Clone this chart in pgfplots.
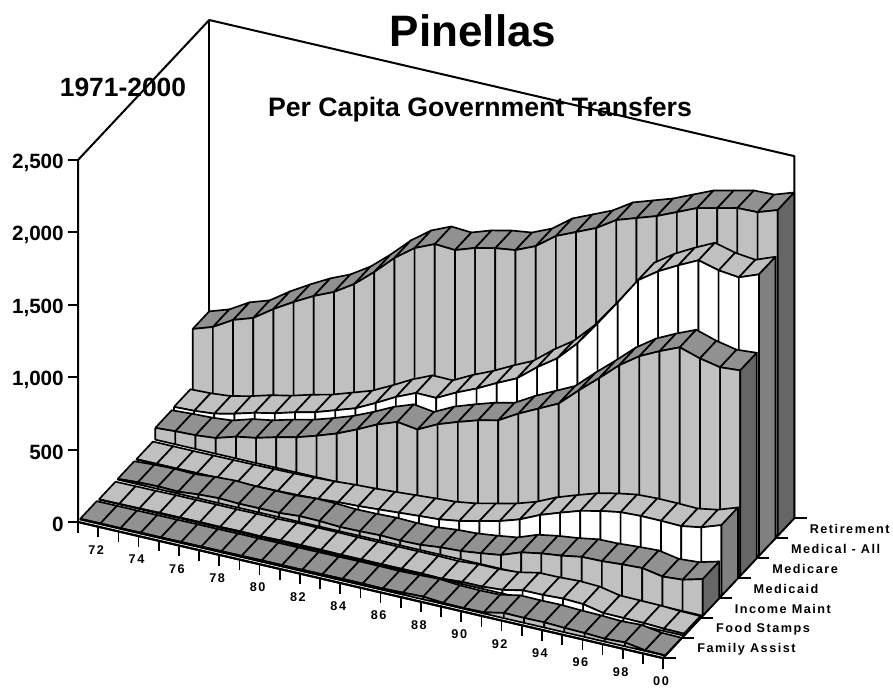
\documentclass[border=0pt]{standalone}
\usepackage{fontspec}
\setmainfont{Liberation Sans}
\newfontfamily\spaced{Liberation Sans}[LetterSpace=12]
\usepackage{pgfplots}
\usepackage{pgfplotstable}
\pgfplotsset{compat=1.18}

\definecolor{lite}{HTML}{C0C0C0}
\definecolor{dark}{HTML}{919191}
\definecolor{sideA}{HTML}{666666}
\definecolor{sideB}{HTML}{808080}

% per capita transfers, row 0 = 1971
\pgfplotstableread{
FA FS IM MA MC MD RT
6 2 5 3 81 88 488
6 3 14 3 90 93 534
6 4 18 3 95 106 615
7 6 14 4 108 138 661
7 6 27 5 150 177 755
8 7 34 6 174 206 836
8 6 28 8 211 245 910
9 8 29 10 243 278 970
9 6 29 14 286 324 1057
10 10 40 20 334 370 1173
10 10 38 30 394 439 1302
10 10 30 36 461 513 1403
11 8 32 45 511 573 1463
12 8 37 55 491 571 1454
12 8 33 65 560 641 1501
10 8 36 74 608 701 1532
14 8 51 95 652 771 1551
19 5 58 127 684 836 1611
8 15 75 159 763 945 1713
5 15 95 203 830 1039 1773
8 25 146 266 897 1175 1833
36 54 171 314 1021 1346 1921
34 55 188 359 1137 1523 1967
36 62 212 391 1259 1708 2013
30 56 215 415 1354 1802 2073
27 27 225 421 1421 1876 2133
20 25 232 420 1480 1943 2165
27 23 206 416 1436 1906 2198
5 16 216 440 1407 1890 2202
2 14 253 488 1418 1943 2249
}\transfers

\tikzset{face/.style={draw=black,line width=1.25pt,line join=round,solid,mark=none},
  wall/.style={draw=black,line width=1.5pt,line join=round,solid,mark=none}}

% column, depth slot, front colour, top colour, side colour
\newcommand\ribbon[5]{%
  \pgfmathsetmacro\dA{#2+0.12}%
  \pgfmathsetmacro\dB{#2+1}%
  \pgfplotsforeachungrouped \k in {0,...,28}{%
    \pgfmathtruncatemacro\kk{\k+1}%
    \pgfplotstablegetelem{\k}{#1}\of\transfers \let\va\pgfplotsretval
    \pgfplotstablegetelem{\kk}{#1}\of\transfers \let\vb\pgfplotsretval
    \edef\temp{%
      \noexpand\addplot3[face,fill=#4] coordinates {(\k,\dA,\va)(\kk,\dA,\vb)(\kk,\dB,\vb)(\k,\dB,\va)(\k,\dA,\va)};
      \noexpand\addplot3[face,fill=#3] coordinates {(\k,\dA,\va)(\kk,\dA,\vb)(\kk,\dA,0)(\k,\dA,0)(\k,\dA,\va)};
    }\temp
  }%
  \pgfplotstablegetelem{29}{#1}\of\transfers \let\va\pgfplotsretval
  \edef\temp{\noexpand\addplot3[face,fill=#5] coordinates {(29,\dA,\va)(29,\dB,\va)(29,\dB,0)(29,\dA,0)(29,\dA,\va)};}\temp
}
\newcommand\yrlabel[2]{\node[font=\spaced\bfseries\fontsize{9.5}{10}\selectfont,xshift=-1.5pt,yshift=-17.4pt,inner sep=0pt] at (axis cs:#1,0,0) {#2};}
\newcommand\serlabel[2]{\node[anchor=west,inner sep=0pt,font=\spaced\bfseries\fontsize{9.5}{10}\selectfont,xshift=25.5pt,yshift=6.75pt] at (axis cs:29,#1,0) {#2};}
\newcommand\zlabel[2]{\node[anchor=east,inner sep=0pt,font=\bfseries\fontsize{15.5}{17}\selectfont,xshift=-10.5pt,yshift=-2pt] at (axis cs:0,0,#1) {#2};}

\begin{document}
\begin{tikzpicture}[x=0.75pt,y=-0.75pt]
\path[use as bounding box] (0,0) rectangle (893,687);
\begin{axis}[at={(58.5pt,-391.5pt)},anchor=origin,
    x={(15.13pt,-3.52pt)},y={(14.06pt,15pt)},z={(0pt,0.1086pt)},
    xmin=0,xmax=29,ymin=0,ymax=7,zmin=0,zmax=2500,
    hide axis,clip=false,no markers]
  % walls and axes
  \addplot3[wall] coordinates {(0,0,0)(0,0,2500)(0,7,2500)(29,7,2500)(29,7,0)(29,0,0)(0,0,0)};
  \addplot3[wall] coordinates {(0,7,2500)(0,7,0)};
  \pgfplotsinvokeforeach{0,500,1000,1500,2000,2500}{\draw[line width=1.5pt] (axis cs:0,0,#1) -- ++(-7.5pt,0pt);}
  \pgfplotsinvokeforeach{0,...,29}{\draw[line width=1.25pt] (axis cs:#1,0,0) -- ++(0pt,-8pt);}
  \pgfplotsinvokeforeach{0,...,7}{\draw[line width=1.25pt] (axis cs:29,#1,0) -- ++(9.5pt,0pt);}
  % ribbons, back to front
  \ribbon{RT}{6}{lite}{dark}{sideA}
  \ribbon{MD}{5}{white}{lite}{sideB}
  \ribbon{MC}{4}{lite}{dark}{sideA}
  \ribbon{MA}{3}{white}{lite}{sideB}
  \ribbon{IM}{2}{lite}{dark}{sideA}
  \ribbon{FS}{1}{white}{lite}{sideB}
  \ribbon{FA}{0}{lite}{dark}{sideA}
  \addplot3[wall] coordinates {(0,0,0)(29,0,0)};
  \zlabel{0}{0}
  \zlabel{500}{500}
  \zlabel{1000}{1,000}
  \zlabel{1500}{1,500}
  \zlabel{2000}{2,000}
  \zlabel{2500}{2,500}
  \yrlabel{1}{72}\yrlabel{3}{74}\yrlabel{5}{76}\yrlabel{7}{78}\yrlabel{9}{80}
  \yrlabel{11}{82}\yrlabel{13}{84}\yrlabel{15}{86}\yrlabel{17}{88}\yrlabel{19}{90}
  \yrlabel{21}{92}\yrlabel{23}{94}\yrlabel{25}{96}\yrlabel{27}{98}\yrlabel{29}{00}
  \serlabel{0}{Family Assist}
  \serlabel{1}{Food Stamps}
  \serlabel{2}{Income Maint}
  \serlabel{3}{Medicaid}
  \serlabel{4}{Medicare}
  \serlabel{5}{Medical - All}
  \serlabel{6}{Retirement}
\end{axis}
\node[font=\bfseries\fontsize{33}{36}\selectfont] at (473,31) {Pinellas};
\node[font=\bfseries\fontsize{20}{22}\selectfont] at (480,110) {Per Capita Government Transfers};
\node[font=\bfseries\fontsize{19.8}{22}\selectfont] at (123,87) {1971-2000};
\end{tikzpicture}
\end{document}
